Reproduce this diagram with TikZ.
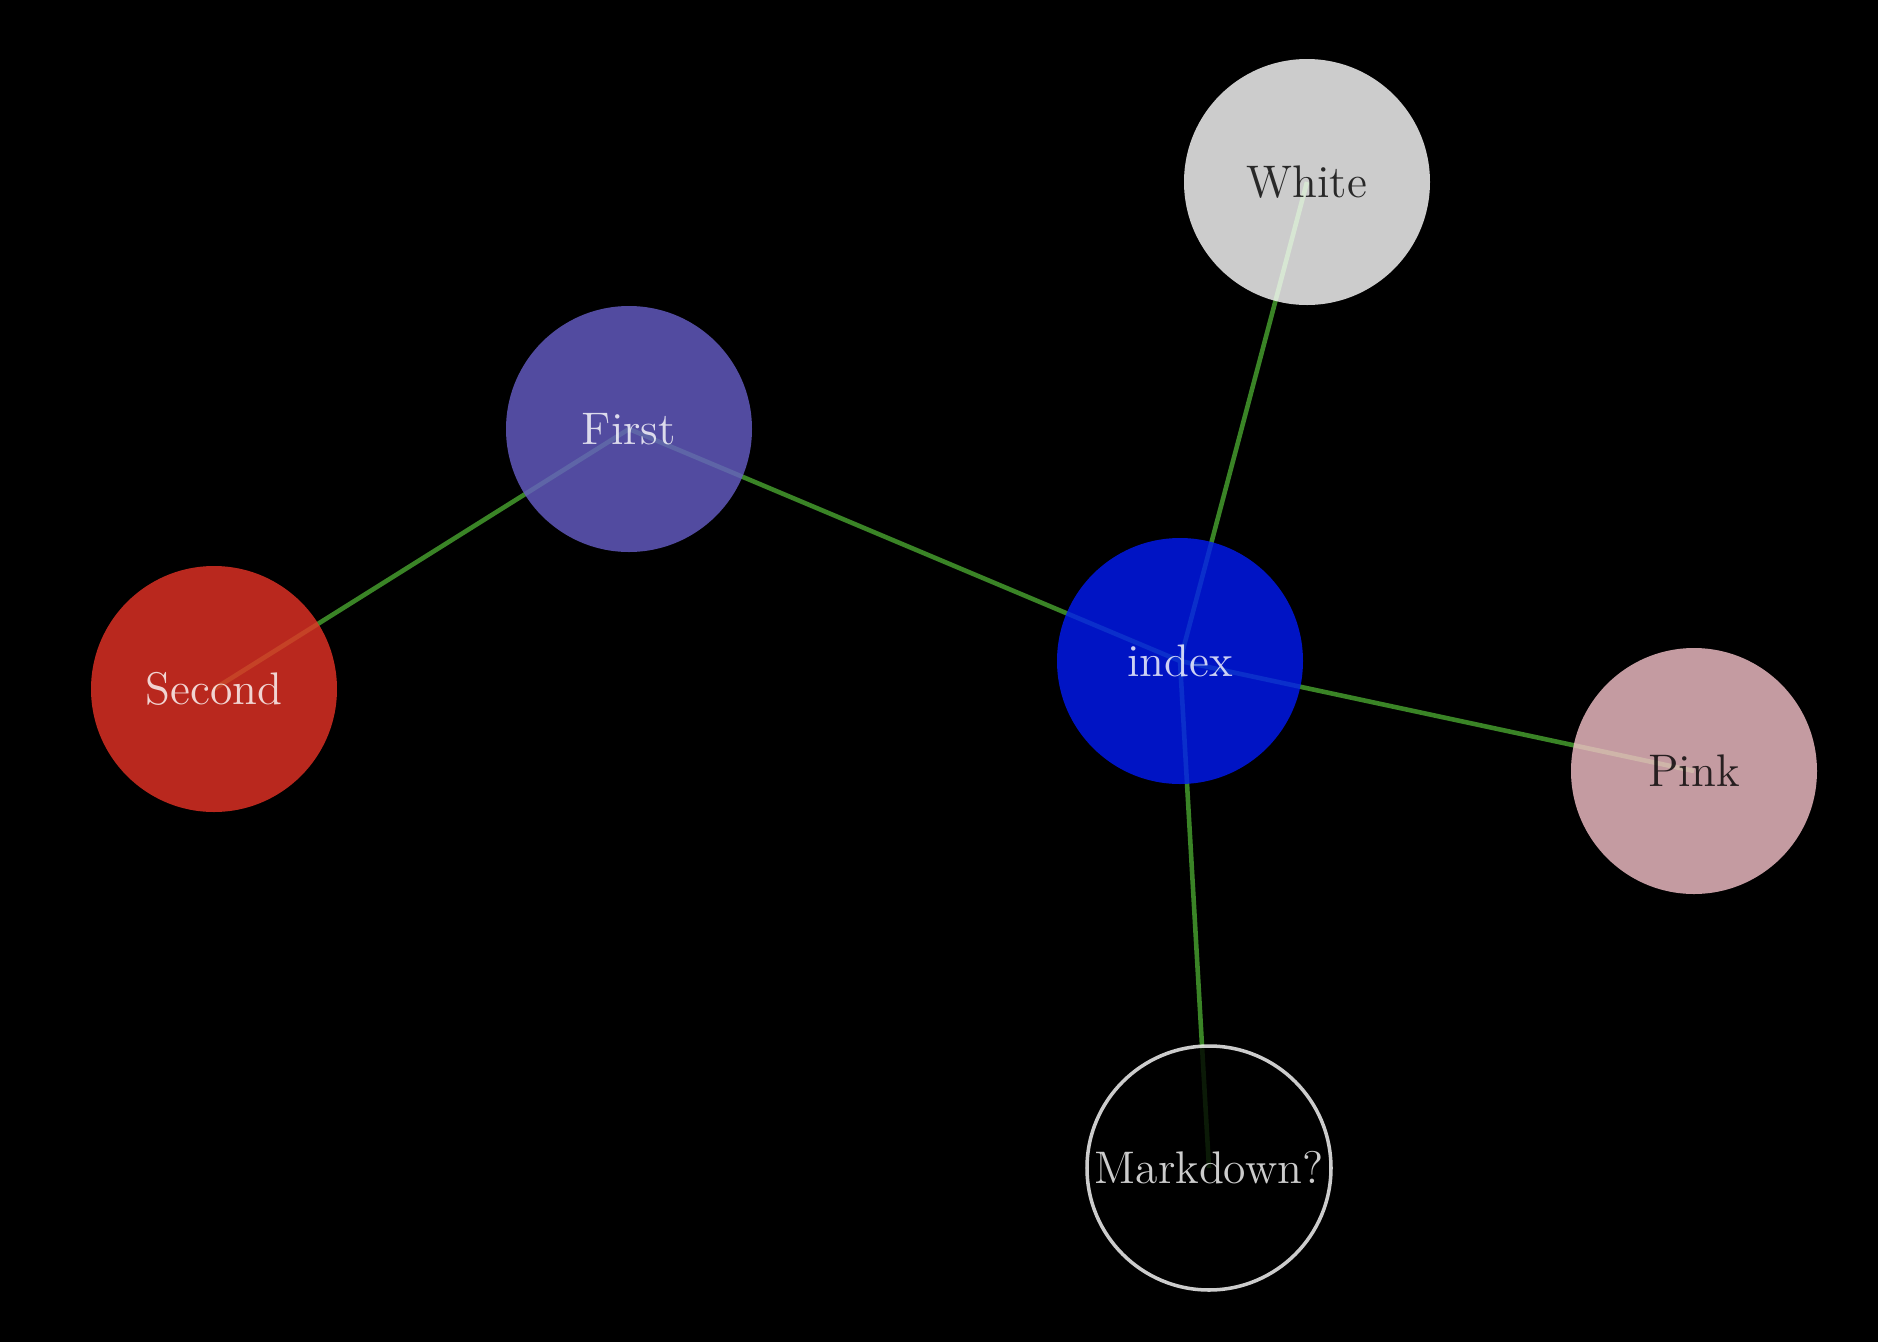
\documentclass[tikz,border=0pt]{standalone}
\usepackage{tikz,tkz-graph}
\pgfdeclarelayer{edgelayer}
\pgfdeclarelayer{bglayer}
\pgfsetlayers{bglayer,edgelayer,main}
\definecolor{edgeGreen}{RGB}{58,132,38}
\definecolor{indexBlue}{RGB}{0,26,245}
\definecolor{firstSlate}{RGB}{103,94,200}
\definecolor{secondRed}{RGB}{232,50,38}
\definecolor{pinkRose}{RGB}{245,194,202}
\tikzstyle{bubble}=[shape = circle, minimum size = 2.46cm, inner sep = 0pt, fill opacity = 0.8, draw opacity = 0.8, text opacity = 0.8, font = \fontsize{13}{16}\selectfont]
\tikzstyle{darkLabel}=[bubble, text = black]
\tikzstyle{lightLabel}=[bubble, text = white]

\begin{document}
\begin{tikzpicture}[scale = 1]
\tikzstyle{VertexStyle} = []
\tikzstyle{edgeLine} = [draw = edgeGreen, line width = 1.3pt]
\begin{pgfonlayer}{bglayer}
\fill[black] (0,0) rectangle (18.78,-13.42);
\end{pgfonlayer}
\useasboundingbox (0,0) rectangle (18.78,-13.42);
\Vertex[style = {darkLabel, fill = white}, x = 13.07, y = -1.82, L = {White}]{white}
\Vertex[style = {lightLabel, fill = firstSlate}, x = 6.29, y = -4.29, L = {First}]{first}
\Vertex[style = {lightLabel, fill = secondRed}, x = 2.14, y = -6.89, L = {Second}]{second}
\Vertex[style = {lightLabel, fill = indexBlue}, x = 11.80, y = -6.61, L = {index}]{index}
\Vertex[style = {darkLabel, fill = pinkRose}, x = 16.94, y = -7.71, L = {Pink}]{pink}
\Vertex[style = {lightLabel, fill = black, draw = white, line width = 1pt, minimum size = 2.44cm}, x = 12.09, y = -11.68, L = {Markdown?}]{markdown}
\begin{pgfonlayer}{edgelayer}
\draw[edgeLine] (second.center) -- (first.center);
\draw[edgeLine] (first.center) -- (index.center);
\draw[edgeLine] (index.center) -- (white.center);
\draw[edgeLine] (index.center) -- (pink.center);
\draw[edgeLine] (index.center) -- (markdown.center);
\end{pgfonlayer}
\end{tikzpicture}
\end{document}
